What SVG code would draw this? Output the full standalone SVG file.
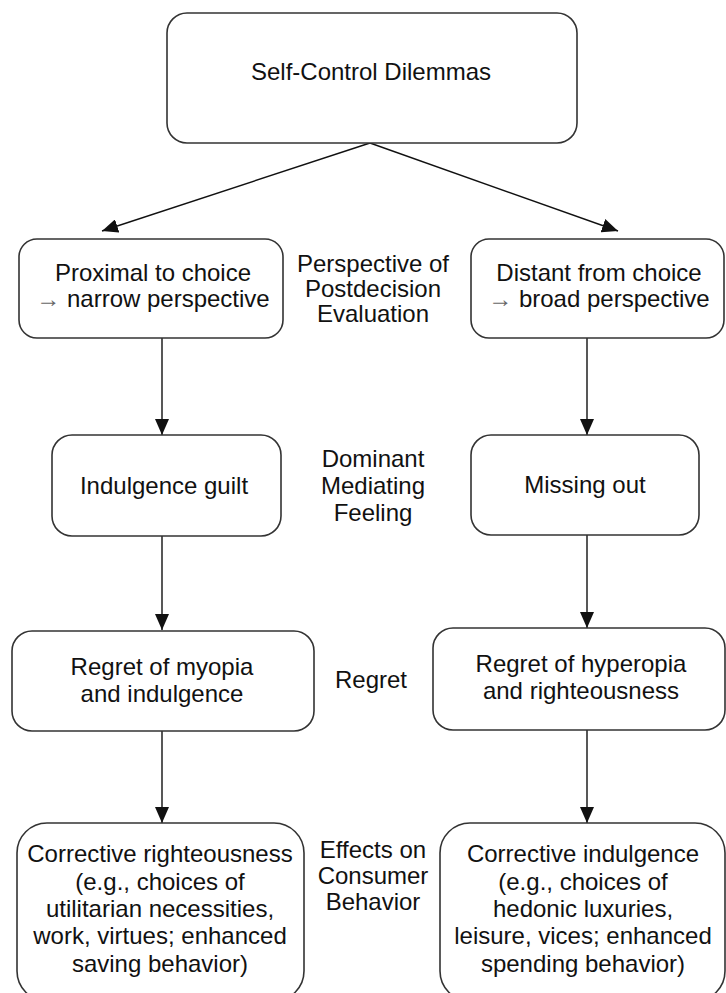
<svg xmlns="http://www.w3.org/2000/svg" width="726" height="993" viewBox="0 0 726 993">
<style>
.box{fill:#fff;stroke:#333;stroke-width:1.6}
.t{font-family:"Liberation Sans",Arial,sans-serif;font-size:24px;fill:#111;text-anchor:middle}
.ar{fill:#666}
.c{stroke:#111;stroke-width:1.4;fill:none;marker-end:url(#ah)}
</style>
<defs>
<marker id="ah" viewBox="0 0 16 14" refX="16" refY="7" markerWidth="16" markerHeight="14" markerUnits="userSpaceOnUse" orient="auto">
<path d="M0,0 L16,7 L0,14 Z" fill="#111"/>
</marker>
</defs>
<rect width="726" height="993" fill="#fff"/>
<g id="connectors">
<line class="c" x1="370" y1="143" x2="102" y2="231"/>
<line class="c" x1="370" y1="143" x2="618" y2="231"/>
<line class="c" x1="162" y1="338" x2="162" y2="435"/>
<line class="c" x1="587" y1="338" x2="587" y2="435"/>
<line class="c" x1="162" y1="536" x2="162" y2="630"/>
<line class="c" x1="587" y1="535" x2="587" y2="628"/>
<line class="c" x1="162" y1="731" x2="162" y2="823"/>
<line class="c" x1="587" y1="730" x2="587" y2="823"/>
</g>
<g id="top">
<rect class="box" x="167" y="13" width="410" height="130" rx="20"/>
<text class="t" x="371" y="80">Self-Control Dilemmas</text>
</g>
<g id="proximal">
<rect class="box" x="19" y="239" width="264" height="99" rx="18"/>
<text class="t" x="153" y="281">Proximal to choice</text>
<text class="t" x="153" y="307"><tspan class="ar">→</tspan> narrow perspective</text>
</g>
<g id="label-perspective">
<text class="t" x="373" y="272">Perspective of</text>
<text class="t" x="373" y="297">Postdecision</text>
<text class="t" x="373" y="322">Evaluation</text>
</g>
<g id="distant">
<rect class="box" x="471" y="239" width="253" height="99" rx="18"/>
<text class="t" x="599" y="281">Distant from choice</text>
<text class="t" x="599" y="307"><tspan class="ar">→</tspan> broad perspective</text>
</g>
<g id="guilt">
<rect class="box" x="52" y="435" width="229" height="101" rx="20"/>
<text class="t" x="164" y="494">Indulgence guilt</text>
</g>
<g id="label-feeling">
<text class="t" x="373" y="467">Dominant</text>
<text class="t" x="373" y="494">Mediating</text>
<text class="t" x="373" y="521">Feeling</text>
</g>
<g id="missing">
<rect class="box" x="471" y="435" width="228" height="100" rx="20"/>
<text class="t" x="585" y="493">Missing out</text>
</g>
<g id="myopia">
<rect class="box" x="12" y="631" width="302" height="100" rx="20"/>
<text class="t" x="162" y="675">Regret of myopia</text>
<text class="t" x="162" y="702">and indulgence</text>
</g>
<g id="label-regret">
<text class="t" x="371" y="688">Regret</text>
</g>
<g id="hyperopia">
<rect class="box" x="433" y="628" width="292" height="102" rx="20"/>
<text class="t" x="581" y="672">Regret of hyperopia</text>
<text class="t" x="581" y="699">and righteousness</text>
</g>
<g id="righteousness">
<rect class="box" x="17" y="823" width="287" height="178" rx="30"/>
<text class="t" x="160" y="862">Corrective righteousness</text>
<text class="t" x="160" y="890">(e.g., choices of</text>
<text class="t" x="160" y="917">utilitarian necessities,</text>
<text class="t" x="160" y="944">work, virtues; enhanced</text>
<text class="t" x="160" y="972">saving behavior)</text>
</g>
<g id="label-effects">
<text class="t" x="373" y="858">Effects on</text>
<text class="t" x="373" y="884">Consumer</text>
<text class="t" x="373" y="910">Behavior</text>
</g>
<g id="indulgence">
<rect class="box" x="440" y="823" width="285" height="178" rx="30"/>
<text class="t" x="583" y="862">Corrective indulgence</text>
<text class="t" x="583" y="890">(e.g., choices of</text>
<text class="t" x="583" y="917">hedonic luxuries,</text>
<text class="t" x="583" y="944">leisure, vices; enhanced</text>
<text class="t" x="583" y="972">spending behavior)</text>
</g>
</svg>
